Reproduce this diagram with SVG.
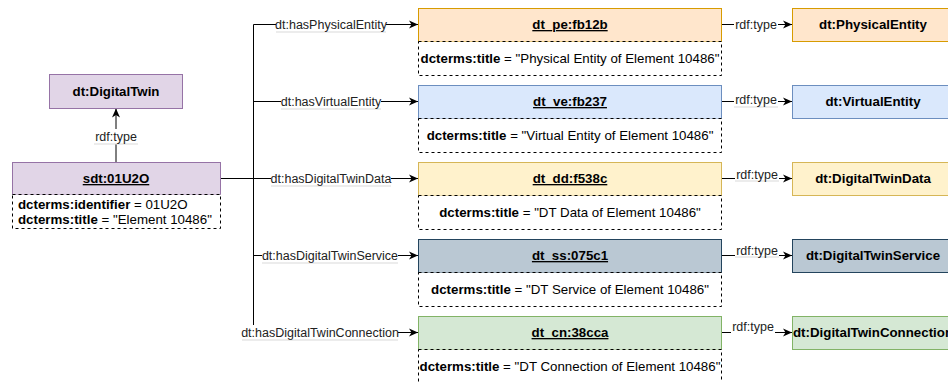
<svg xmlns="http://www.w3.org/2000/svg" width="948" height="382" viewBox="0 0 948 382">
<defs>
<marker id="arr" markerUnits="userSpaceOnUse" markerWidth="10" markerHeight="10" refX="9" refY="5" orient="auto">
<path d="M0,1 L9,5 L0,9 L2.5,5 Z" fill="#000"/>
</marker>
<style>
text{font-family:"Liberation Sans",Arial,sans-serif;fill:#000}
.hdr{font-size:13.3px;font-weight:bold;text-anchor:middle;text-decoration:underline}
.cls{font-size:13.3px;font-weight:bold;text-anchor:middle}
.body{font-size:13.3px;text-anchor:middle}
.lbl{font-size:12.5px;text-anchor:middle;fill:#222}
.lblbg{fill:#fff}
.ul{stroke:#d9d9d9;stroke-width:1}
.dash{fill:#fff;stroke:#000;stroke-width:1;stroke-dasharray:3 3}
.edge{fill:none;stroke:#000;stroke-width:1}
.b{font-weight:bold}
</style>
</defs>
<rect width="948" height="382" fill="#fff"/>

<g id="connectors">
<line class="edge" x1="116" y1="162.5" x2="116" y2="108.5" marker-end="url(#arr)"/>
<line class="edge" x1="221" y1="178.5" x2="253.5" y2="178.5" stroke-width="2"/>
<line class="edge" x1="253.5" y1="24.5" x2="253.5" y2="332.5"/>
<line class="edge" x1="253.5" y1="24.5" x2="418" y2="24.5" marker-end="url(#arr)"/>
<line class="edge" x1="253.5" y1="101.5" x2="418" y2="101.5" marker-end="url(#arr)"/>
<line class="edge" x1="253.5" y1="178.5" x2="418" y2="178.5" marker-end="url(#arr)"/>
<line class="edge" x1="253.5" y1="255.5" x2="418" y2="255.5" marker-end="url(#arr)"/>
<line class="edge" x1="253.5" y1="332.5" x2="418" y2="332.5" marker-end="url(#arr)"/>
<line class="edge" x1="722" y1="24.5" x2="792" y2="24.5" marker-end="url(#arr)"/>
<line class="edge" x1="722" y1="101.5" x2="792" y2="101.5" marker-end="url(#arr)"/>
<line class="edge" x1="722" y1="178.5" x2="792" y2="178.5" marker-end="url(#arr)"/>
<line class="edge" x1="722" y1="255.5" x2="792" y2="255.5" marker-end="url(#arr)"/>
<line class="edge" x1="722" y1="332.5" x2="792" y2="332.5" marker-end="url(#arr)"/>

<g id="lbl-type-dt">
<rect class="lblbg" x="93" y="129" width="46" height="15"/>
<line class="ul" x1="94" y1="144" x2="138" y2="144"/>
<text class="lbl" x="116" y="141">rdf:type</text>
</g>
<g id="lbl-pe">
<rect class="lblbg" x="276" y="17" width="110" height="15"/>
<line class="ul" x1="276" y1="32" x2="386" y2="32"/>
<text class="lbl" x="331" y="29">dt:hasPhysicalEntity</text>
</g>
<g id="lbl-ve">
<rect class="lblbg" x="281" y="94" width="100" height="15"/>
<line class="ul" x1="281" y1="109" x2="381" y2="109"/>
<text class="lbl" x="331" y="106">dt:hasVirtualEntity</text>
</g>
<g id="lbl-dd">
<rect class="lblbg" x="271" y="171" width="120" height="15"/>
<line class="ul" x1="271" y1="186" x2="391" y2="186"/>
<text class="lbl" x="331" y="183">dt:hasDigitalTwinData</text>
</g>
<g id="lbl-ss">
<rect class="lblbg" x="262" y="248" width="136" height="15"/>
<line class="ul" x1="262" y1="263" x2="398" y2="263"/>
<text class="lbl" x="330" y="260">dt:hasDigitalTwinService</text>
</g>
<g id="lbl-cn">
<rect class="lblbg" x="242" y="325" width="156" height="15"/>
<line class="ul" x1="242" y1="340" x2="398" y2="340"/>
<text class="lbl" x="320" y="337">dt:hasDigitalTwinConnection</text>
</g>
<g id="lbl-types">
<rect class="lblbg" x="734" y="17" width="44" height="15"/>
<text class="lbl" x="756" y="29">rdf:type</text>
<rect class="lblbg" x="734" y="93" width="44" height="14"/>
<line class="ul" x1="734" y1="107" x2="778" y2="107"/>
<text class="lbl" x="756" y="104">rdf:type</text>
<rect class="lblbg" x="735" y="167" width="44" height="14"/>
<line class="ul" x1="735" y1="181" x2="779" y2="181"/>
<text class="lbl" x="757" y="179">rdf:type</text>
<rect class="lblbg" x="735" y="243" width="44" height="14"/>
<line class="ul" x1="735" y1="257" x2="779" y2="257"/>
<text class="lbl" x="757" y="255">rdf:type</text>
<rect class="lblbg" x="731" y="319" width="44" height="14"/>
<text class="lbl" x="753" y="331">rdf:type</text>
</g>
</g>

<g id="DigitalTwin">
<rect x="49.5" y="74.5" width="133" height="34" fill="#e1d5e7" stroke="#9673a6"/>
<text class="cls" x="116" y="96">dt:DigitalTwin</text>
</g>

<g id="sdt">
<rect x="12.5" y="162.5" width="208" height="32" fill="#e1d5e7" stroke="#9673a6"/>
<text class="hdr" x="116" y="183">sdt:01U2O</text>
<rect class="dash" x="12.5" y="194.5" width="208" height="34"/>
<text x="18" y="209" font-size="13.3"><tspan class="b">dcterms:identifier</tspan> = 01U2O</text>
<text x="18" y="224" font-size="13.3"><tspan class="b">dcterms:title</tspan> = "Element 10486"</text>
</g>

<g id="pe">
<rect x="418.5" y="8.5" width="303" height="33" fill="#ffe6cc" stroke="#d79b00"/>
<text class="hdr" x="570" y="29">dt_pe:fb12b</text>
<rect class="dash" x="418.5" y="41.5" width="303" height="34"/>
<text class="body" x="570" y="63"><tspan class="b">dcterms:title</tspan> = "Physical Entity of Element 10486"</text>
</g>

<g id="ve">
<rect x="418.5" y="85.5" width="303" height="33" fill="#dae8fc" stroke="#6c8ebf"/>
<text class="hdr" x="570" y="106">dt_ve:fb237</text>
<rect class="dash" x="418.5" y="118.5" width="303" height="34"/>
<text class="body" x="570" y="140"><tspan class="b">dcterms:title</tspan> = "Virtual Entity of Element 10486"</text>
</g>

<g id="dd">
<rect x="418.5" y="162.5" width="303" height="33" fill="#fff2cc" stroke="#d6b656"/>
<text class="hdr" x="570" y="183">dt_dd:f538c</text>
<rect class="dash" x="418.5" y="195.5" width="303" height="34"/>
<text class="body" x="570" y="217"><tspan class="b">dcterms:title</tspan> = "DT Data of Element 10486"</text>
</g>

<g id="ss">
<rect x="418.5" y="239.5" width="303" height="33" fill="#bac8d3" stroke="#23445d"/>
<text class="hdr" x="570" y="260">dt_ss:075c1</text>
<rect class="dash" x="418.5" y="272.5" width="303" height="34"/>
<text class="body" x="570" y="294"><tspan class="b">dcterms:title</tspan> = "DT Service of Element 10486"</text>
</g>

<g id="cn">
<rect x="418.5" y="316.5" width="303" height="33" fill="#d5e8d4" stroke="#82b366"/>
<text class="hdr" x="570" y="337">dt_cn:38cca</text>
<rect class="dash" x="418.5" y="349.5" width="303" height="34"/>
<text class="body" x="570" y="371"><tspan class="b">dcterms:title</tspan> = "DT Connection of Element 10486"</text>
</g>

<g id="PhysicalEntity">
<rect x="792.5" y="8.5" width="162" height="33" fill="#ffe6cc" stroke="#d79b00"/>
<text class="cls" x="873" y="29">dt:PhysicalEntity</text>
</g>
<g id="VirtualEntity">
<rect x="792.5" y="85.5" width="162" height="33" fill="#dae8fc" stroke="#6c8ebf"/>
<text class="cls" x="873" y="106">dt:VirtualEntity</text>
</g>
<g id="DigitalTwinData">
<rect x="792.5" y="162.5" width="162" height="33" fill="#fff2cc" stroke="#d6b656"/>
<text class="cls" x="873" y="183">dt:DigitalTwinData</text>
</g>
<g id="DigitalTwinService">
<rect x="792.5" y="239.5" width="162" height="33" fill="#bac8d3" stroke="#23445d"/>
<text class="cls" x="873" y="260">dt:DigitalTwinService</text>
</g>
<g id="DigitalTwinConnection">
<rect x="792.5" y="316.5" width="162" height="33" fill="#d5e8d4" stroke="#82b366"/>
<text class="cls" x="873" y="337">dt:DigitalTwinConnection</text>
</g>
</svg>
